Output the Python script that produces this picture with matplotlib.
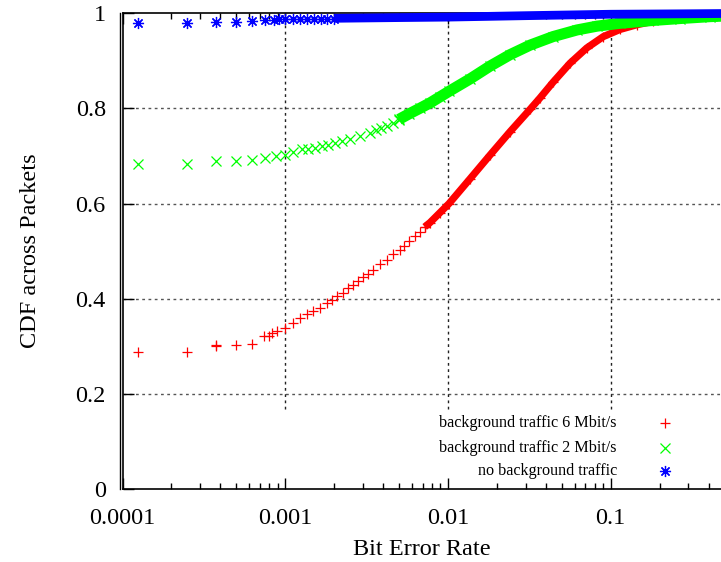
#!/usr/bin/env python3
"""CDF of bit error rate across packets, three background-traffic conditions."""
import matplotlib
matplotlib.use("Agg")
import matplotlib.pyplot as plt
from matplotlib.lines import Line2D
from matplotlib.ticker import FixedLocator, LogLocator, NullFormatter

plt.rcParams.update({
    "font.family": ["Liberation Serif", "DejaVu Serif"],
    "font.size": 17.5,
    "axes.linewidth": 1.2,
})

# --- data (BER, CDF) ---
# sparse head of each series: individual markers
red_x = [0.000125, 0.00025, 0.000375, 0.000375, 0.0005, 0.000625, 0.00074, 0.00079,
         0.00083, 0.00089, 0.001, 0.00112, 0.00123, 0.00136, 0.00149, 0.00164, 0.0018,
         0.00193, 0.00209, 0.002256, 0.002442, 0.002622, 0.002814, 0.00302, 0.003243,
         0.003479, 0.003825, 0.004205, 0.004616, 0.005076, 0.0054, 0.0058, 0.0063,
         0.0067, 0.0072]
red_y = [0.288, 0.288, 0.300, 0.302, 0.302, 0.304, 0.322, 0.322,
         0.328, 0.333, 0.338, 0.350, 0.360, 0.367, 0.374, 0.381, 0.390,
         0.398, 0.405, 0.413, 0.422, 0.429, 0.438, 0.445, 0.452,
         0.461, 0.472, 0.482, 0.493, 0.503, 0.511, 0.521, 0.531,
         0.540, 0.550]
# dense tail: markers overlap into a solid band
red_band_x = [0.0072, 0.007762, 0.008943, 0.01016, 0.01367, 0.01815,
              0.02408, 0.03196, 0.0368, 0.04426, 0.0563, 0.0713, 0.0902, 0.1142, 0.1453,
              0.1822, 0.2671, 0.4083, 0.48]
red_band_y = [0.551, 0.560, 0.581, 0.600, 0.652, 0.702,
              0.751, 0.798, 0.822, 0.855, 0.895, 0.927, 0.951, 0.966, 0.976,
              0.983, 0.990, 0.995, 0.996]

green_x = [0.000125, 0.00025, 0.000375, 0.0005, 0.000625, 0.00075, 0.000875, 0.001,
           0.00112, 0.00126, 0.00139, 0.00153, 0.00168, 0.00184, 0.00202, 0.00223,
           0.0025, 0.00288, 0.00332, 0.0036, 0.0039, 0.0042, 0.0046, 0.005]
green_y = [0.684, 0.684, 0.689, 0.689, 0.691, 0.696, 0.701, 0.703,
           0.708, 0.714, 0.715, 0.717, 0.721, 0.724, 0.728, 0.731,
           0.736, 0.742, 0.749, 0.754, 0.759, 0.764, 0.770, 0.776]
green_band_x = [0.005, 0.0058, 0.0067, 0.0078, 0.0089, 0.01016, 0.01367, 0.01815,
                0.02408, 0.03196, 0.04426, 0.06217, 0.08249, 0.1142, 0.1822, 0.2671,
                0.4083, 0.48]
green_band_y = [0.777, 0.789, 0.800, 0.812, 0.824, 0.836, 0.862, 0.889,
                0.913, 0.933, 0.951, 0.965, 0.973, 0.979, 0.985, 0.989,
                0.993, 0.994]

blue_x = [0.000125, 0.00025, 0.000375, 0.0005, 0.000625, 0.00075, 0.00085, 0.00091,
          0.001, 0.00112, 0.00123, 0.00136, 0.0015, 0.00165, 0.0018, 0.002]
blue_y = [0.980, 0.980, 0.982, 0.982, 0.984, 0.986, 0.986, 0.987,
          0.987, 0.988, 0.988, 0.988, 0.988, 0.989, 0.989, 0.989]
blue_band_x = [0.002, 0.005, 0.01, 0.03, 0.1, 0.3, 0.48]
blue_band_y = [0.9895, 0.991, 0.992, 0.995, 0.998, 0.999, 0.9995]

labels = ["background traffic 6 Mbit/s", "background traffic 2 Mbit/s", "no background traffic"]
colors = ["#ff0000", "#00ff00", "#0000ff"]
markers = ["+", "x", (8, 2, 0)]
msizes = [7, 7, 8]

xticks = [0.0001, 0.001, 0.01, 0.1]
xtick_labels = ["0.0001", "0.001", "0.01", "0.1"]
yticks = [0, 0.2, 0.4, 0.6, 0.8, 1.0]
ytick_labels = ["0", "0.2", "0.4", "0.6", "0.8", "1"]

W, H = 721, 562
fig = plt.figure(figsize=(W / 100, H / 100), dpi=100)
L, B, T = 122.5 / W, 1 - 489 / H, 1 - 13.3 / H
ax = fig.add_axes([L, B, 1 - L, T - B])

series = [(red_x, red_y, red_band_x, red_band_y, 5.2, True),
          (green_x, green_y, green_band_x, green_band_y, 8.0, True),
          (blue_x, blue_y, blue_band_x, blue_band_y, 6.3, False)]
for (sx, sy, bx, by, bw, band_marks), c, m, ms in zip(series, colors, markers, msizes):
    ax.plot(bx, by, color=c, lw=bw, solid_capstyle="butt", clip_on=False, zorder=3)
    ax.plot(sx, sy, ls="none", marker=m, ms=ms, mew=0.9, color=c, clip_on=False, zorder=4)
    if band_marks:
        ax.plot(bx, by, ls="none", marker=m, ms=ms, mew=0.9, color=c, clip_on=False, zorder=3)

ax.set_xscale("log")
ax.set_xlim(0.0001, 0.477)
ax.set_ylim(0, 1)

# grid: horizontal full width, vertical stops above the key box
for y in yticks[1:-1]:
    ax.axhline(y, color="#555555", lw=1.0, ls=(0, (2, 2.5)), zorder=1)
for x in xticks[1:]:
    ax.axvline(x, ymin=0.168, color="#222222", lw=1.0, ls=(0, (2, 2.5)), zorder=1)

ax.xaxis.set_major_locator(FixedLocator(xticks))
ax.set_xticklabels(xtick_labels)
ax.xaxis.set_minor_locator(LogLocator(base=10, subs=range(2, 10)))
ax.xaxis.set_minor_formatter(NullFormatter())
ax.set_yticks(yticks)
ax.set_yticklabels(ytick_labels)
ax.tick_params(axis="x", which="major", direction="in", length=8, width=1, top=True, pad=14)
ax.tick_params(axis="x", which="minor", direction="in", length=4.5, width=1, top=True)
ax.tick_params(axis="y", which="major", direction="in", length=8, width=1, pad=12)
ax.spines["right"].set_visible(False)

ax.set_xlabel("Bit Error Rate", labelpad=7)
ax.set_ylabel("CDF across Packets", labelpad=25)

# second line of the doubled left border
fig.add_artist(Line2D([120.3 / W] * 2, [B, T], color="black", lw=1.0))

# key, bottom right
key_y = [0.139, 0.087, 0.038]
for lab, c, m, ms, ky in zip(labels, colors, markers, msizes, key_y):
    ax.text(0.826, ky, lab, transform=ax.transAxes, ha="right", va="center", fontsize=11.6)
    ax.plot([0.9065], [ky], transform=ax.transAxes, ls="none", marker=m, ms=ms, mew=0.9,
            color=c, clip_on=False)

fig.savefig("out.png", dpi=100)
